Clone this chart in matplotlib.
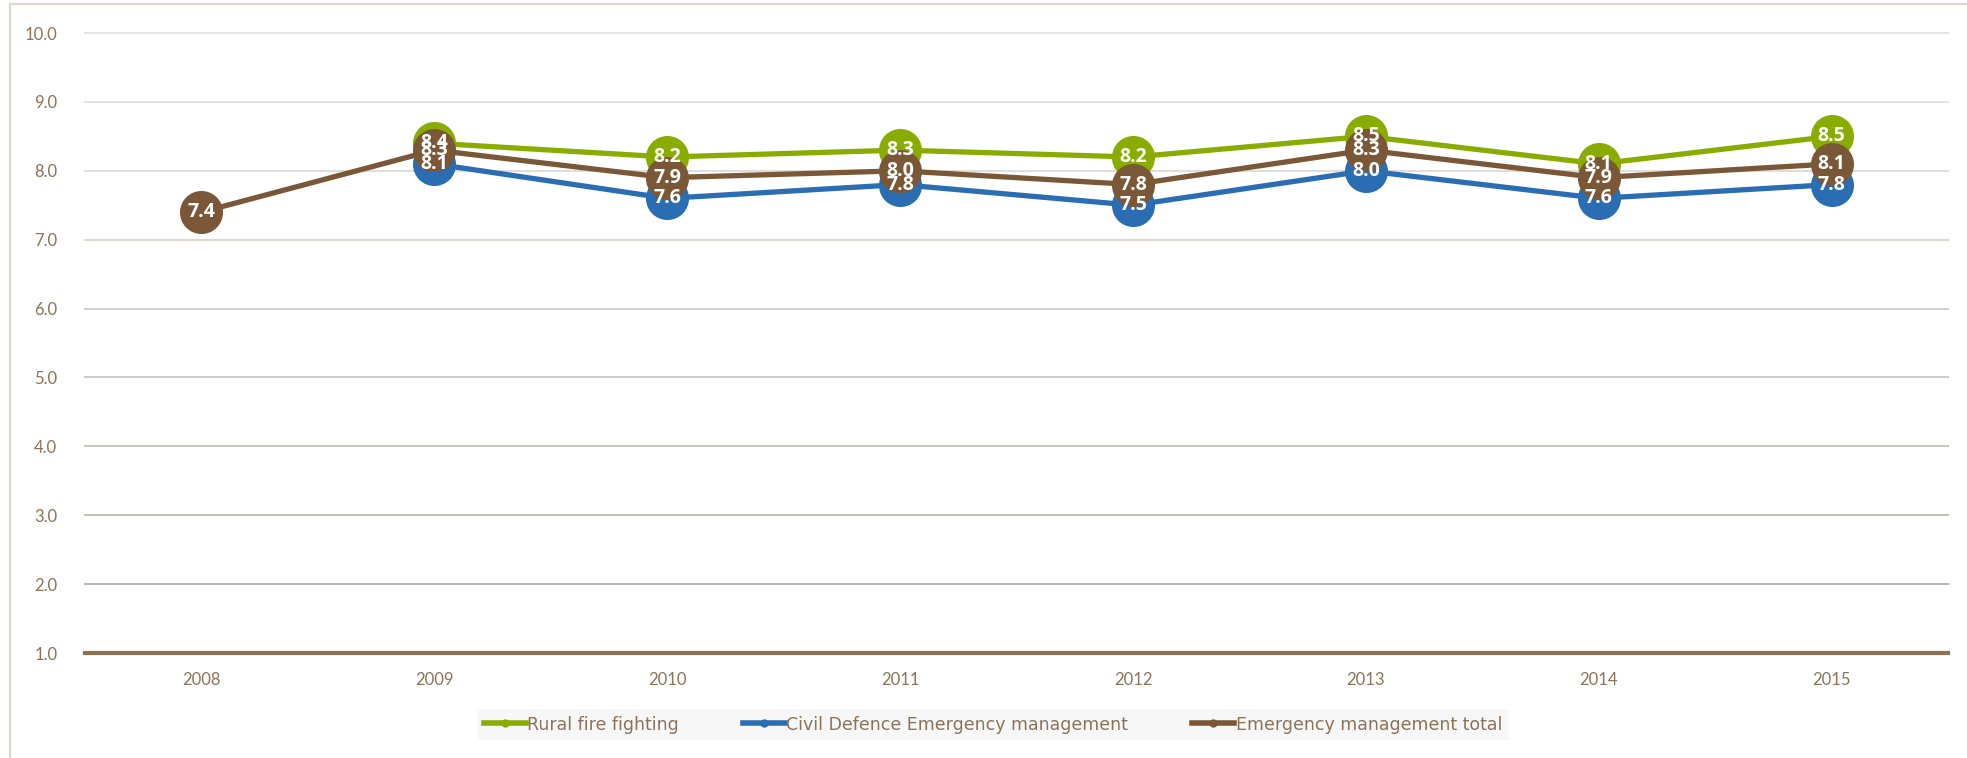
import matplotlib
matplotlib.use("Agg")
import matplotlib.pyplot as plt
import numpy as np
from matplotlib.patches import Rectangle

years = ["2008", "2009", "2010", "2011", "2012", "2013", "2014", "2015"]
rural_fire = [None, 8.4, 8.2, 8.3, 8.2, 8.5, 8.1, 8.5]
civil_defence = [None, 8.1, 7.6, 7.8, 7.5, 8.0, 7.6, 7.8]
em_total = [7.4, 8.3, 7.9, 8.0, 7.8, 8.3, 7.9, 8.1]
y_ticks = [1, 2, 3, 4, 5, 6, 7, 8, 9, 10]

series = [
    ("Rural fire fighting", rural_fire, "#8aac00"),
    ("Civil Defence Emergency management", civil_defence, "#2a6db3"),
    ("Emergency management total", em_total, "#7a5837"),
]

TEXT_BROWN = "#8b7358"

W, H = 1967, 758
fig = plt.figure(figsize=(W / 100, H / 100), dpi=100)
fig.patch.set_facecolor("white")

# thin beige frame around the chart
fig.add_artist(Rectangle((10 / W, -0.05), 1.2, 1.05 - 4 / H, transform=fig.transFigure,
                         fill=False, edgecolor="#e0d6ca", linewidth=1.6))

ax = fig.add_axes([85 / W, 1 - 653 / H, (1948 - 85) / W, (653 - 33) / H])
ax.set_xlim(-0.5, len(years) - 0.5)
ax.set_ylim(1, 10)
for s in ax.spines.values():
    s.set_visible(False)

# horizontal gridlines, darkening towards the base
grid_cols = ["#8b7152", "#bcb4aa", "#c4beb6", "#c8c4be", "#cccac6",
             "#d0ceca", "#dcd6d0", "#e0dedc", "#e2e2e2", "#e4e4e4"]
for v, c in zip(y_ticks, grid_cols):
    lw = 3.0 if v == 1 else 1.4
    ax.axhline(v, color=c, linewidth=lw, zorder=1, clip_on=False)

x = np.arange(len(years))
handles = []
for i, (name, vals, col) in enumerate(series):
    xs = [xi for xi, v in zip(x, vals) if v is not None]
    ys = [v for v in vals if v is not None]
    ax.plot(xs, ys, color=col, linewidth=3.8, marker="o", markersize=31,
            markeredgewidth=0, zorder=3 + i, clip_on=False)
    h, = ax.plot([], [], color=col, linewidth=4, marker="o", markersize=6,
                 markeredgewidth=0)
    handles.append(h)

for name, vals, col in series:
    for xi, v in zip(x, vals):
        if v is None:
            continue
        ax.text(xi, v, f"{v:.1f}", ha="center", va="center", color="white",
                fontsize=14, fontweight="bold", family="Open Sans", zorder=10)

ax.set_xticks(x)
ax.set_xticklabels(years)
ax.set_yticks(y_ticks)
ax.set_yticklabels([f"{v:.1f}" for v in y_ticks])
ax.tick_params(axis="both", length=0, colors=TEXT_BROWN, labelsize=12)
ax.tick_params(axis="y", pad=20)
ax.tick_params(axis="x", pad=14)
for lbl in ax.get_xticklabels() + ax.get_yticklabels():
    lbl.set_family("Lato")

leg = fig.legend(handles, [s[0] for s in series], loc="center",
                 bbox_to_anchor=(477 / W, 14 / H, 1032 / W, 39 / H),
                 mode="expand", ncol=3, frameon=True, fancybox=False,
                 facecolor="#f7f7f7", edgecolor="none", framealpha=1,
                 handlelength=2.4, handletextpad=0.1, borderaxespad=0,
                 prop={"family": ["Liberation Sans Narrow", "DejaVu Sans"], "size": 12.5})
for t in leg.get_texts():
    t.set_color(TEXT_BROWN)

fig.savefig("out.png", dpi=100)
